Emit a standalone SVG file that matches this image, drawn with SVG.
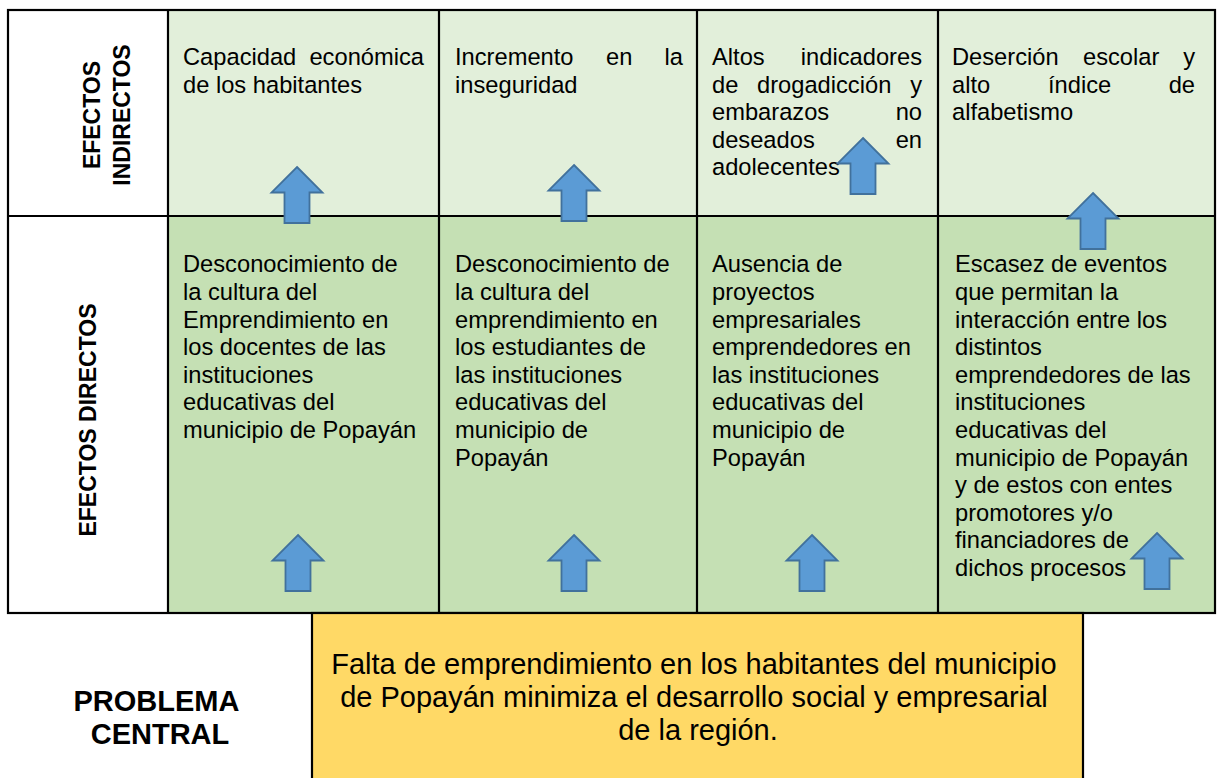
<svg xmlns="http://www.w3.org/2000/svg" xmlns:xlink="http://www.w3.org/1999/xlink" width="1217" height="778" viewBox="0 0 1217 778">
<style>
  text { font-family: "Liberation Sans", Arial, sans-serif; fill: #000; }
  .t { font-size: 23.7px; }
  .lbl { font-size: 23px; font-weight: bold; }
  .pc { font-size: 29px; font-weight: bold; }
  .ct { font-size: 29px; }
  .top { fill: #E2EFDA; }
  .bot { fill: #C5E0B4; }
  .ln { stroke: #000; stroke-width: 2.2; fill: none; }
  .arr { fill: #5B9BD5; stroke: #41719C; stroke-width: 1.8; stroke-linejoin: miter; }
</style>
<defs>
  <path id="up" d="M0,0 L25.5,25.5 L12.5,25.5 L12.5,56 L-12.5,56 L-12.5,25.5 L-25.5,25.5 Z"/>
</defs>
<rect x="0" y="0" width="1217" height="778" fill="#fff"/>

<!-- row backgrounds -->
<rect class="top" x="168" y="10" width="1047" height="206"/>
<rect class="bot" x="168" y="216" width="1047" height="397"/>

<!-- table grid -->
<g id="grid">
  <rect class="ln" x="8" y="10" width="1207" height="603"/>
  <line class="ln" x1="8" y1="216" x2="1215" y2="216"/>
  <line class="ln" x1="168" y1="10" x2="168" y2="613"/>
  <line class="ln" x1="439" y1="10" x2="439" y2="613"/>
  <line class="ln" x1="697" y1="10" x2="697" y2="613"/>
  <line class="ln" x1="938" y1="10" x2="938" y2="613"/>
</g>

<g id="lbl-indirectos">
  <text class="lbl" text-anchor="middle" transform="translate(100,115) rotate(-90)">EFECTOS</text>
  <text class="lbl" text-anchor="middle" transform="translate(130,115) rotate(-90)">INDIRECTOS</text>
</g>
<g id="lbl-directos">
  <text class="lbl" text-anchor="middle" transform="translate(96,420) rotate(-90)">EFECTOS DIRECTOS</text>
</g>

<!-- top row -->
<g id="ind1">
  <text class="t" x="183" y="65">Capacidad</text>
  <text class="t" x="424" y="65" text-anchor="end">económica</text>
  <text class="t" x="183" y="92.5">de los habitantes</text>
</g>
<g id="ind2">
  <text class="t" x="455" y="65">Incremento</text>
  <text class="t" x="606" y="65">en</text>
  <text class="t" x="683" y="65" text-anchor="end">la</text>
  <text class="t" x="455" y="92.5">inseguridad</text>
</g>
<g id="ind3">
  <text class="t" x="712" y="65">Altos</text>
  <text class="t" x="922" y="65" text-anchor="end">indicadores</text>
  <text class="t" x="712" y="92.5">de</text>
  <text class="t" x="757" y="92.5">drogadicción</text>
  <text class="t" x="922" y="92.5" text-anchor="end">y</text>
  <text class="t" x="712" y="120">embarazos</text>
  <text class="t" x="922" y="120" text-anchor="end">no</text>
  <text class="t" x="712" y="147.5">deseados</text>
  <text class="t" x="922" y="147.5" text-anchor="end">en</text>
  <text class="t" x="712" y="175">adolecentes</text>
</g>
<g id="ind4">
  <text class="t" x="952" y="65">Deserción</text>
  <text class="t" x="1083" y="65">escolar</text>
  <text class="t" x="1195" y="65" text-anchor="end">y</text>
  <text class="t" x="952" y="92.5">alto</text>
  <text class="t" x="1048" y="92.5">índice</text>
  <text class="t" x="1195" y="92.5" text-anchor="end">de</text>
  <text class="t" x="952" y="120">alfabetismo</text>
</g>

<!-- bottom row -->
<g id="dir1">
  <text class="t" y="272.3">
    <tspan x="183">Desconocimiento de</tspan>
    <tspan x="183" dy="27.6">la cultura del</tspan>
    <tspan x="183" dy="27.6">Emprendimiento en</tspan>
    <tspan x="183" dy="27.6">los docentes de las</tspan>
    <tspan x="183" dy="27.6">instituciones</tspan>
    <tspan x="183" dy="27.6">educativas del</tspan>
    <tspan x="183" dy="27.6">municipio de Popayán</tspan>
  </text>
</g>
<g id="dir2">
  <text class="t" y="272.3">
    <tspan x="455">Desconocimiento de</tspan>
    <tspan x="455" dy="27.6">la cultura del</tspan>
    <tspan x="455" dy="27.6">emprendimiento en</tspan>
    <tspan x="455" dy="27.6">los estudiantes de</tspan>
    <tspan x="455" dy="27.6">las instituciones</tspan>
    <tspan x="455" dy="27.6">educativas del</tspan>
    <tspan x="455" dy="27.6">municipio de</tspan>
    <tspan x="455" dy="27.6">Popayán</tspan>
  </text>
</g>
<g id="dir3">
  <text class="t" y="272.3">
    <tspan x="712">Ausencia de</tspan>
    <tspan x="712" dy="27.6">proyectos</tspan>
    <tspan x="712" dy="27.6">empresariales</tspan>
    <tspan x="712" dy="27.6">emprendedores en</tspan>
    <tspan x="712" dy="27.6">las instituciones</tspan>
    <tspan x="712" dy="27.6">educativas del</tspan>
    <tspan x="712" dy="27.6">municipio de</tspan>
    <tspan x="712" dy="27.6">Popayán</tspan>
  </text>
</g>
<g id="dir4">
  <text class="t" y="272.3">
    <tspan x="955">Escasez de eventos</tspan>
    <tspan x="955" dy="27.6">que permitan la</tspan>
    <tspan x="955" dy="27.6">interacción entre los</tspan>
    <tspan x="955" dy="27.6">distintos</tspan>
    <tspan x="955" dy="27.6">emprendedores de las</tspan>
    <tspan x="955" dy="27.6">instituciones</tspan>
    <tspan x="955" dy="27.6">educativas del</tspan>
    <tspan x="955" dy="27.6">municipio de Popayán</tspan>
    <tspan x="955" dy="27.6">y de estos con entes</tspan>
    <tspan x="955" dy="27.6">promotores y/o</tspan>
    <tspan x="955" dy="27.6">financiadores de</tspan>
    <tspan x="955" dy="27.6">dichos procesos</tspan>
  </text>
</g>

<!-- central problem -->
<g id="problema-label">
  <text class="pc" text-anchor="middle">
    <tspan x="160" y="710.7">PROBLEMA</tspan>
    <tspan x="160" y="744">CENTRAL</tspan>
  </text>
</g>
<g id="problema">
  <rect x="312" y="613" width="771" height="180" fill="#FFD966" stroke="#000" stroke-width="2.2"/>
  <text class="ct" text-anchor="middle">
    <tspan x="698" y="673.5">Falta de emprendimiento en los habitantes del municipio</tspan>
    <tspan x="698" y="706.8">de Popayán minimiza el desarrollo social y empresarial</tspan>
    <tspan x="698" y="740">de la región.</tspan>
  </text>
</g>

<!-- connectors (arrows) -->
<g id="connectors">
  <use xlink:href="#up" href="#up" class="arr" x="297" y="167"/>
  <use xlink:href="#up" href="#up" class="arr" x="574" y="165"/>
  <use xlink:href="#up" href="#up" class="arr" x="863" y="138"/>
  <use xlink:href="#up" href="#up" class="arr" x="1093" y="193"/>
  <use xlink:href="#up" href="#up" class="arr" x="298" y="535"/>
  <use xlink:href="#up" href="#up" class="arr" x="574" y="535"/>
  <use xlink:href="#up" href="#up" class="arr" x="812" y="535"/>
  <use xlink:href="#up" href="#up" class="arr" x="1157" y="533"/>
</g>
</svg>
